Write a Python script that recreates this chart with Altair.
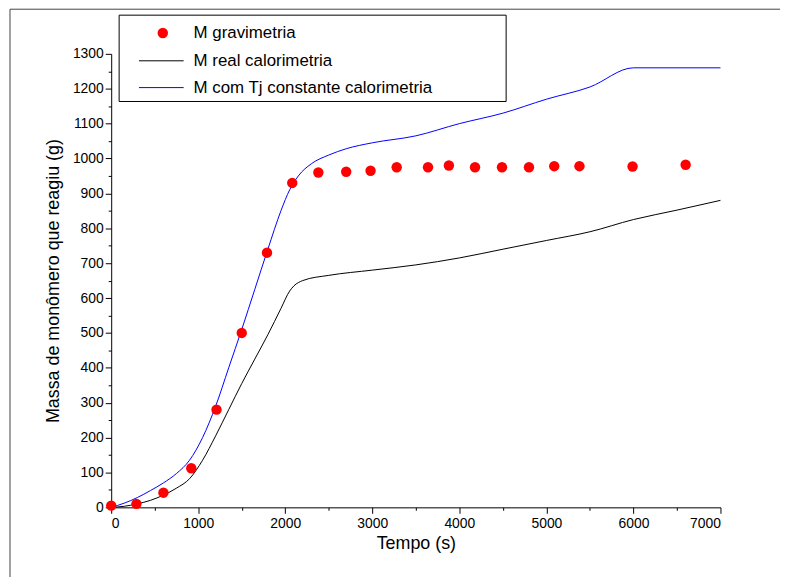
import altair as alt
import pandas as pd

grav_t = [0, 290, 600, 920, 1210, 1500, 1790, 2080, 2380, 2700, 2980, 3280, 3640, 3880,
          4180, 4490, 4800, 5090, 5380, 5990, 6600]
grav_m = [5, 10, 42, 112, 280, 500, 730, 930, 960, 962, 965, 975, 975, 980,
          975, 975, 975, 978, 978, 977, 982]

real_t = [0, 150, 300, 450, 600, 750, 900, 1050, 1200, 1350, 1500, 1650, 1800, 1950, 2050,
          2100, 2200, 2500, 3000, 3500, 4000, 4500, 5000, 5500, 6000, 6500, 7000]
real_m = [0, 3, 10, 20, 35, 55, 82, 135, 205, 280, 355, 425, 495, 570, 620,
          635, 650, 665, 680, 695, 715, 740, 765, 790, 825, 852, 880]

tj_t = [0, 150, 300, 450, 600, 750, 900, 1050, 1200, 1350, 1500, 1650, 1800, 1950, 2050,
        2150, 2300, 2500, 2700, 3000, 3500, 4000, 4500, 5000, 5500, 6000, 7000]
tj_m = [0, 12, 28, 48, 70, 97, 135, 200, 290, 400, 510, 625, 740, 850, 910,
        950, 985, 1010, 1028, 1045, 1065, 1100, 1130, 1170, 1205, 1260, 1260]

legend_labels = ["M gravimetria", "M real calorimetria", "M com Tj constante calorimetria"]

FONT = "Liberation Sans"
W, H = 614, 457

xs = alt.Scale(domain=[0, 7000], nice=False)
ys = alt.Scale(domain=[0, 1300], nice=False)

xax = alt.Axis(values=list(range(0, 7001, 1000)), title="Tempo (s)", grid=False, format="d",
               orient="bottom", labelFontSize=14, titleFontSize=18, titleFontWeight="normal",
               tickSize=6, domainColor="black", tickColor="black", labelColor="black",
               titleColor="black", titlePadding=4, labelPadding=3)
yax = alt.Axis(values=list(range(0, 1301, 100)), title="Massa de monômero que reagiu (g)", grid=False,
               format="d", orient="left", labelFontSize=14, titleFontSize=18, titleFontWeight="normal",
               tickSize=6, domainColor="black", tickColor="black", labelColor="black",
               titleColor="black", titlePadding=10)

real = alt.Chart(pd.DataFrame({"t": real_t, "m": real_m})).mark_line(
    color="black", strokeWidth=1, interpolate="monotone"
).encode(x=alt.X("t:Q", scale=xs, axis=xax), y=alt.Y("m:Q", scale=ys, axis=yax))

tj = alt.Chart(pd.DataFrame({"t": tj_t, "m": tj_m})).mark_line(
    color="#0000ff", strokeWidth=1, interpolate="monotone"
).encode(x=alt.X("t:Q", scale=xs, axis=None), y=alt.Y("m:Q", scale=ys, axis=None))

grav = alt.Chart(pd.DataFrame({"t": grav_t, "m": grav_m})).mark_circle(
    color="#ff0000", opacity=1, size=110
).encode(x=alt.X("t:Q", scale=xs, axis=None), y=alt.Y("m:Q", scale=ys, axis=None))

# minor ticks
minor_x = alt.Chart(pd.DataFrame({"t": [0]})).mark_point(opacity=0).encode(
    x=alt.X("t:Q", scale=xs, axis=alt.Axis(values=list(range(500, 7000, 1000)), labels=False,
                                           orient="bottom", title=None, tickSize=3, domain=False,
                                           grid=False, tickColor="black")))
minor_y = alt.Chart(pd.DataFrame({"m": [0]})).mark_point(opacity=0).encode(
    y=alt.Y("m:Q", scale=ys, axis=alt.Axis(values=list(range(50, 1300, 100)), labels=False,
                                           orient="left", title=None, tickSize=3, domain=False,
                                           grid=False, tickColor="black")))

one = pd.DataFrame({"a": [0]})

# legend box and figure frame
box = alt.Chart(one).mark_rect(fill="white", stroke="black", strokeWidth=1).encode(
    x=alt.value(8), x2=alt.value(398), y=alt.value(-39), y2=alt.value(48))
frame = alt.Chart(one).mark_rect(fill=None, stroke="#444", strokeWidth=1).encode(
    x=alt.value(-102), x2=alt.value(700), y=alt.value(-45), y2=alt.value(600))
leg_dot = alt.Chart(one).mark_circle(color="#ff0000", opacity=1, size=110).encode(
    x=alt.value(52), y=alt.value(-21))
leg_black = alt.Chart(one).mark_rule(color="black", strokeWidth=1).encode(
    x=alt.value(28), x2=alt.value(73), y=alt.value(7))
leg_blue = alt.Chart(one).mark_rule(color="#0000ff", strokeWidth=1).encode(
    x=alt.value(28), x2=alt.value(73), y=alt.value(34))
leg_texts = [
    alt.Chart(one).mark_text(align="left", baseline="middle", font=FONT, fontSize=17,
                             color="black", text=lab).encode(x=alt.value(83), y=alt.value(yy))
    for lab, yy in zip(legend_labels, [-21, 7, 34])
]

chart = alt.layer(frame, real, tj, grav, minor_x, minor_y, box, leg_dot, leg_black, leg_blue,
                  *leg_texts).resolve_scale(x="independent", y="independent").properties(
    width=W, height=H, autosize=alt.AutoSizeParams(type="none"),
    padding={"left": 104, "top": 44, "right": 60, "bottom": 70}
).configure_view(stroke=None).configure_axis(labelFont=FONT, titleFont=FONT)

chart.save("out.html", embed_options={"renderer": "svg", "actions": False})
